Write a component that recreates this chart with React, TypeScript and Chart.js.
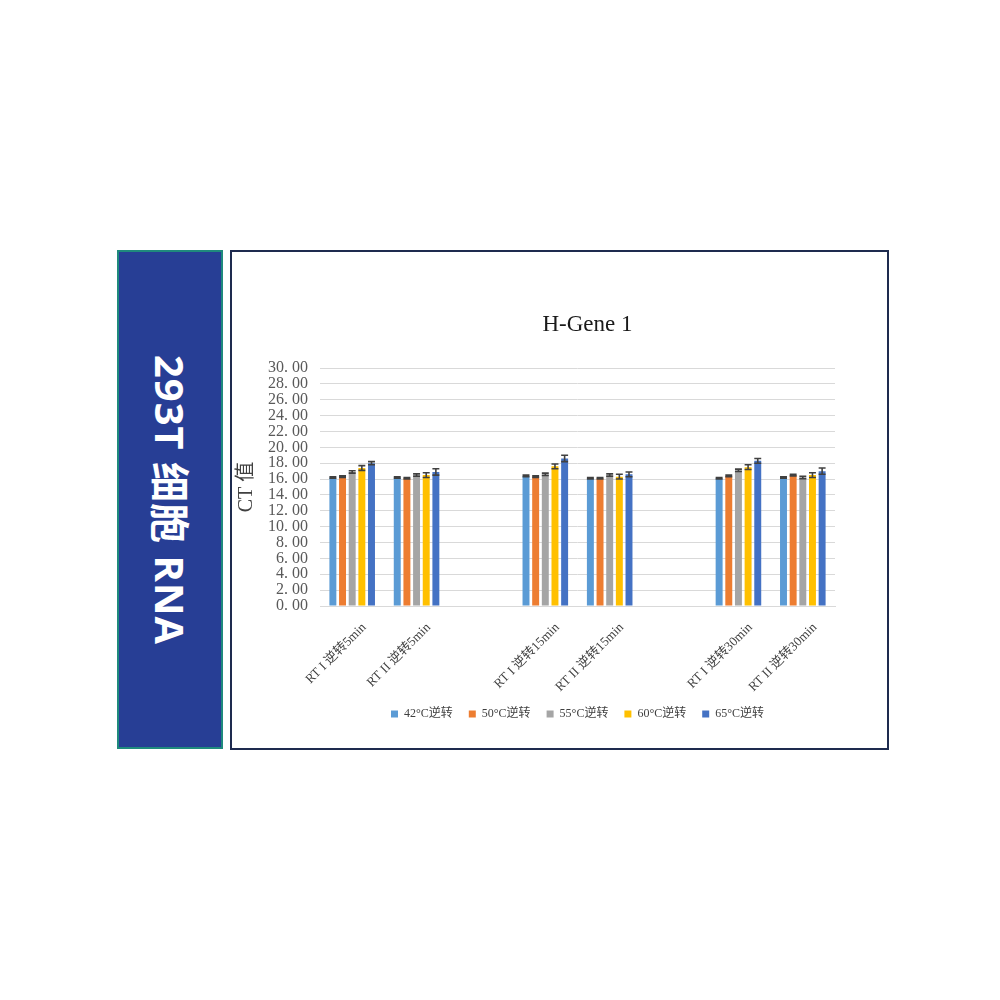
import React, { useEffect, useRef } from 'react';
import { Chart, registerables } from 'chart.js';

Chart.register(...registerables);

const chartTitle = 'H-Gene 1';
const yAxisTitle = 'CT 值';
const panelText = '293T 细胞 RNA';

const categories = [
  'RT I 逆转5min',
  'RT II 逆转5min',
  '',
  'RT I 逆转15min',
  'RT II 逆转15min',
  '',
  'RT I 逆转30min',
  'RT II 逆转30min',
];

const seriesNames = ['42°C逆转', '50°C逆转', '55°C逆转', '60°C逆转', '65°C逆转'];
const seriesColors = ['#5b9bd5', '#ed7d31', '#a5a5a5', '#ffc000', '#4472c4'];

const ct42 = [16.2, 16.2, null, 16.4, 16.1, null, 16.1, 16.2];
const ct50 = [16.3, 16.1, null, 16.3, 16.1, null, 16.4, 16.5];
const ct55 = [16.9, 16.5, null, 16.6, 16.5, null, 17.1, 16.2];
const ct60 = [17.4, 16.5, null, 17.6, 16.3, null, 17.5, 16.5];
const ct65 = [18.0, 16.9, null, 18.6, 16.6, null, 18.3, 17.0];

const err42 = [0.1, 0.1, null, 0.1, 0.1, null, 0.1, 0.1];
const err50 = [0.1, 0.1, null, 0.1, 0.1, null, 0.1, 0.1];
const err55 = [0.15, 0.15, null, 0.15, 0.15, null, 0.15, 0.15];
const err60 = [0.3, 0.3, null, 0.3, 0.3, null, 0.3, 0.3];
const err65 = [0.2, 0.4, null, 0.4, 0.3, null, 0.3, 0.4];

const seriesValues = [ct42, ct50, ct55, ct60, ct65];
const seriesErrors = [err42, err50, err55, err60, err65];

const yMin = 0;
const yMax = 30;
const yStep = 2;

const serif = "'Liberation Serif', 'Noto Sans CJK SC', serif";

const errorBarPlugin = {
  id: 'errorBars',
  afterDatasetsDraw(chart: any) {
    const { ctx } = chart;
    const yScale = chart.scales.y;
    chart.data.datasets.forEach((ds: any, di: number) => {
      const meta = chart.getDatasetMeta(di);
      const errs = seriesErrors[di];
      meta.data.forEach((bar: any, i: number) => {
        const v = ds.data[i];
        const e = errs[i];
        if (v == null || e == null) return;
        const top = yScale.getPixelForValue(v + e);
        const bot = yScale.getPixelForValue(v - e);
        const half = bar.width / 2;
        ctx.save();
        ctx.strokeStyle = '#404040';
        ctx.lineWidth = 1.6;
        ctx.beginPath();
        ctx.moveTo(bar.x, top);
        ctx.lineTo(bar.x, bot);
        ctx.moveTo(bar.x - half, top);
        ctx.lineTo(bar.x + half, top);
        ctx.moveTo(bar.x - half, bot);
        ctx.lineTo(bar.x + half, bot);
        ctx.stroke();
        ctx.restore();
      });
    });
  },
};

const titlePlugin = {
  id: 'chartTitleText',
  afterDraw(chart: any) {
    const { ctx, chartArea } = chart;
    ctx.save();
    ctx.font = `23px ${serif}`;
    ctx.fillStyle = '#1a1a1a';
    ctx.textAlign = 'center';
    ctx.textBaseline = 'middle';
    ctx.fillText(chartTitle, (chartArea.left + chartArea.right) / 2 + 10, chartArea.top - 43);
    ctx.restore();
  },
};

function ChartBox() {
  const ref = useRef<HTMLCanvasElement | null>(null);
  useEffect(() => {
    if (!ref.current) return;
    const chart = new Chart(ref.current, {
      type: 'bar',
      data: {
        labels: categories,
        datasets: seriesNames.map((name, i) => ({
          label: name,
          data: seriesValues[i] as any,
          backgroundColor: seriesColors[i],
          borderWidth: 0,
          categoryPercentage: 0.75,
          barPercentage: 0.72,
        })),
      },
      options: {
        animation: false,
        responsive: false,
        maintainAspectRatio: false,
        layout: { padding: { top: 116, right: 51, bottom: 17, left: 0 } },
        plugins: {
          title: { display: false },
          tooltip: { enabled: false },
          legend: {
            display: true,
            position: 'bottom',
            fullSize: false,
            labels: {
              boxWidth: 7,
              boxHeight: 7,
              padding: 16,
              color: '#404040',
              font: { family: serif, size: 12 },
            },
          },
        },
        scales: {
          x: {
            grid: { display: false, drawTicks: false },
            border: { display: true, color: '#d9d9d9', width: 1 },
            ticks: {
              autoSkip: false,
              maxRotation: 45,
              minRotation: 45,
              padding: 14,
              labelOffset: 12,
              color: '#404040',
              font: { family: serif, size: 13 },
            },
            afterFit(scale: any) {
              scale.height = 86;
            },
          },
          y: {
            min: yMin,
            max: yMax,
            grid: { color: '#d9d9d9', lineWidth: 1, drawTicks: false },
            border: { display: false },
            ticks: {
              stepSize: yStep,
              autoSkip: false,
              padding: 12,
              color: '#595959',
              font: { family: serif, size: 16, lineHeight: 1 },
              callback: (v: any) => Number(v).toFixed(2).replace('.', '. '),
            },
            title: {
              display: true,
              text: yAxisTitle,
              color: '#404040',
              font: { family: serif, size: 20 },
              padding: { top: 3, bottom: 0 },
            },
            afterFit(scale: any) {
              scale.width = 88;
            },
          },
        },
      },
      plugins: [errorBarPlugin, titlePlugin],
    });
    return () => chart.destroy();
  }, []);
  return (
    <canvas
      ref={ref}
      width={654}
      height={495}
      style={{ position: 'absolute', left: 232, top: 252, width: 654, height: 495 }}
    />
  );
}

export default function App() {
  return (
    <div style={{ position: 'absolute', left: 0, top: 0, width: 1000, height: 1000, background: '#ffffff', overflow: 'hidden' }}>
      <div
        style={{
          position: 'absolute',
          left: 117,
          top: 250,
          width: 106,
          height: 499,
          boxSizing: 'border-box',
          border: '2px solid #1f8a7d',
          background: '#273e95',
        }}
      />
      <div
        style={{
          position: 'absolute',
          left: 170,
          top: 500,
          transform: 'translate(-50%, -50%) rotate(90deg)',
          whiteSpace: 'nowrap',
          color: '#ffffff',
          fontFamily: "'Open Sans', 'Noto Sans CJK SC', sans-serif",
          fontWeight: 700,
          fontSize: 40,
          lineHeight: 1,
          letterSpacing: 1,
        }}
      >
        {panelText}
      </div>
      <div
        style={{
          position: 'absolute',
          left: 230,
          top: 250,
          width: 659,
          height: 500,
          boxSizing: 'border-box',
          border: '2px solid #1e2b4f',
        }}
      />
      <ChartBox />
    </div>
  );
}
